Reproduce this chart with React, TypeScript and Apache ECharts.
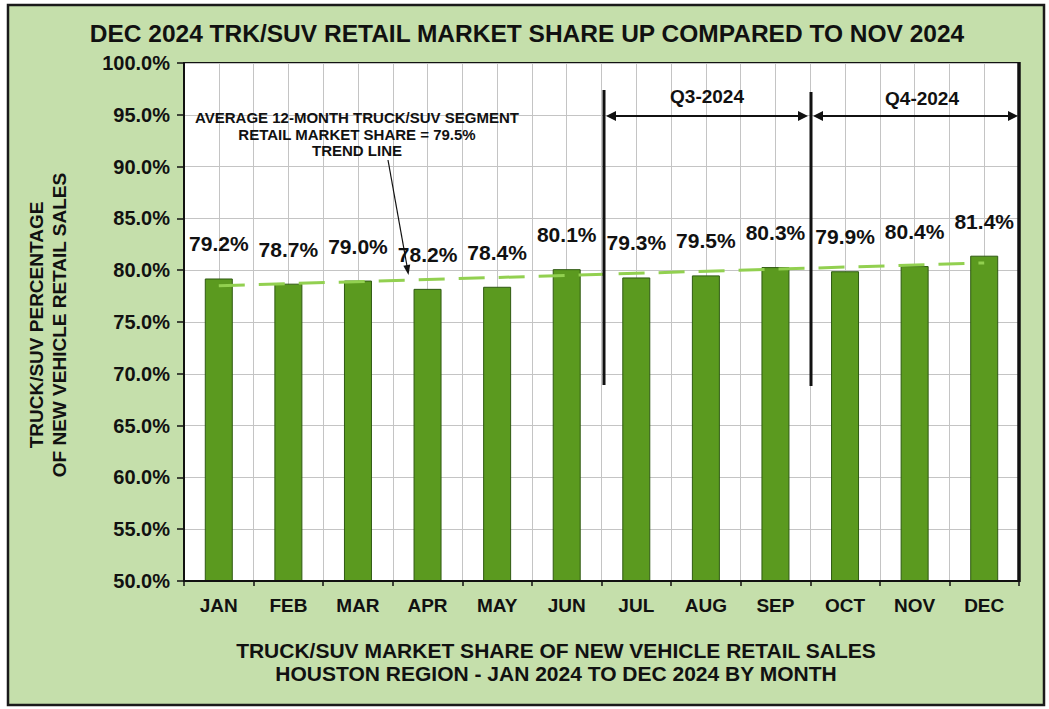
import React, { useEffect, useRef } from "react";
import * as echarts from "echarts";

const categories = ["JAN", "FEB", "MAR", "APR", "MAY", "JUN", "JUL", "AUG", "SEP", "OCT", "NOV", "DEC"];
const shareValues = [79.2, 78.7, 79.0, 78.2, 78.4, 80.1, 79.3, 79.5, 80.3, 79.9, 80.4, 81.4];
// trend line read at its two ends (JAN and DEC)
const trendValues: (number | null)[] = [78.5, null, null, null, null, null, null, null, null, null, null, 80.7];
const titleText = "DEC 2024 TRK/SUV RETAIL MARKET SHARE UP COMPARED TO NOV 2024";
const yNameLines = ["TRUCK/SUV PERCENTAGE", "OF NEW VEHICLE RETAIL SALES"];
const bottomLines = ["TRUCK/SUV MARKET SHARE OF NEW VEHICLE RETAIL SALES", "HOUSTON REGION - JAN 2024 TO DEC 2024 BY MONTH"];
const noteLines = ["AVERAGE 12-MONTH TRUCK/SUV SEGMENT", "RETAIL MARKET SHARE = 79.5%", "TREND LINE"];
const quarterLabels = ["Q3-2024", "Q4-2024"];

const FONT = "'Liberation Sans', Arial, Helvetica, sans-serif";

function arrowHead(tipX: number, tipY: number, dx: number, dy: number, len: number, half: number) {
  const n = Math.sqrt(dx * dx + dy * dy);
  const ux = dx / n, uy = dy / n;
  const bx = tipX - ux * len, by = tipY - uy * len;
  const px = -uy * half, py = ux * half;
  return [[tipX, tipY], [bx + px, by + py], [bx - px, by - py]];
}

export default function App() {
  const ref = useRef<HTMLDivElement>(null);
  useEffect(() => {
    if (!ref.current) return;
    const chart = echarts.init(ref.current, undefined, { renderer: "svg" });
    const black = "#111";
    const option: any = {
      animation: false,
      backgroundColor: "#ffffff",
      textStyle: { fontFamily: FONT },
      grid: {
        left: 184, right: 30, top: 63, bottom: 128,
        show: true, backgroundColor: "#ffffff", borderColor: black, borderWidth: 2,
      },
      xAxis: [
        {
          type: "category",
          data: categories,
          boundaryGap: true,
          axisLine: { lineStyle: { color: black, width: 2 } },
          axisTick: { show: true, length: 5, lineStyle: { color: black, width: 1.5 } },
          axisLabel: { color: "#111", fontWeight: "bold", fontSize: 19, fontFamily: FONT, margin: 15 },
          splitLine: { show: false },
          z: 5,
        },
        {
          type: "value",
          min: 0, max: 24, interval: 1,
          position: "top",
          axisLine: { show: false }, axisTick: { show: false }, axisLabel: { show: false },
          splitLine: { show: true, lineStyle: { color: "#c4c4c4", width: 1 } },
        },
      ],
      yAxis: {
        type: "value",
        min: 50, max: 100, interval: 5,
        axisLine: { show: true, lineStyle: { color: black, width: 2 } },
        axisTick: { show: true, length: 7, lineStyle: { color: black, width: 1.5 } },
        axisLabel: {
          color: "#111", fontWeight: "bold", fontSize: 20, fontFamily: FONT, margin: 14,
          formatter: (v: number) => v.toFixed(1) + "%",
        },
        splitLine: { show: true, lineStyle: { color: "#c4c4c4", width: 1 } },
      },
      series: [
        {
          type: "bar",
          data: shareValues,
          barWidth: 28,
          itemStyle: { color: "#5b9a1f", borderColor: "#2f5a12", borderWidth: 1 },
          label: {
            show: true, position: "top", distance: 24,
            formatter: (p: any) => p.value.toFixed(1) + "%",
            color: "#111", fontWeight: "bold", fontSize: 21, fontFamily: FONT,
          },
          z: 2,
        },
        {
          type: "line",
          data: trendValues,
          connectNulls: true,
          symbol: "none",
          lineStyle: { color: "#92d050", width: 3, type: [26, 14] },
          z: 3,
        },
      ],
      graphic: [
        { type: "rect", z: -10, shape: { x: 8, y: 5, width: 1036, height: 700 }, style: { fill: "#c5dfab", stroke: "#1a1a1a", lineWidth: 2.5 } },
        { type: "line", z: 10, shape: { x1: 1019, y1: 62, x2: 1019, y2: 582 }, style: { stroke: black, lineWidth: 3.5 } },
        { type: "text", z: 10, x: 527, y: 33, style: { text: titleText, fill: "#111", font: `bold 24.5px ${FONT}`, textAlign: "center", textVerticalAlign: "middle" } },
        { type: "text", z: 10, x: 48, y: 325, rotation: Math.PI / 2, style: { text: yNameLines.join("\n"), fill: "#111", font: `bold 19px ${FONT}`, textAlign: "center", textVerticalAlign: "middle", lineHeight: 23 } },
        { type: "text", z: 10, x: 556, y: 662, style: { text: bottomLines.join("\n"), fill: "#111", font: `bold 21px ${FONT}`, textAlign: "center", textVerticalAlign: "middle", lineHeight: 23 } },
        { type: "text", z: 10, x: 357, y: 134, style: { text: noteLines.join("\n"), fill: "#111", font: `bold 15px ${FONT}`, textAlign: "center", textVerticalAlign: "middle", lineHeight: 16.5 } },
        { type: "line", z: 10, shape: { x1: 388, y1: 160, x2: 407, y2: 266 }, style: { stroke: black, lineWidth: 1.2 } },
        { type: "polygon", z: 10, shape: { points: arrowHead(408.5, 275, 20, 115, 10, 3.5) }, style: { fill: black } },
        // quarter separators
        { type: "line", z: 10, shape: { x1: 604, y1: 90, x2: 604, y2: 385 }, style: { stroke: black, lineWidth: 3 } },
        { type: "line", z: 10, shape: { x1: 811, y1: 92, x2: 811, y2: 386 }, style: { stroke: black, lineWidth: 3 } },
        { type: "line", z: 10, shape: { x1: 612, y1: 116, x2: 800, y2: 116 }, style: { stroke: black, lineWidth: 2 } },
        { type: "polygon", z: 10, shape: { points: arrowHead(606, 116, -1, 0, 10, 5) }, style: { fill: black } },
        { type: "polygon", z: 10, shape: { points: arrowHead(808, 116, 1, 0, 10, 5) }, style: { fill: black } },
        { type: "line", z: 10, shape: { x1: 820, y1: 116, x2: 1010, y2: 116 }, style: { stroke: black, lineWidth: 2 } },
        { type: "polygon", z: 10, shape: { points: arrowHead(813, 116, -1, 0, 10, 5) }, style: { fill: black } },
        { type: "polygon", z: 10, shape: { points: arrowHead(1018, 116, 1, 0, 10, 5) }, style: { fill: black } },
        { type: "text", z: 10, x: 707, y: 96, style: { text: quarterLabels[0], fill: "#111", font: `bold 19px ${FONT}`, textAlign: "center", textVerticalAlign: "middle" } },
        { type: "text", z: 10, x: 922, y: 98, style: { text: quarterLabels[1], fill: "#111", font: `bold 19px ${FONT}`, textAlign: "center", textVerticalAlign: "middle" } },
      ],
    };
    chart.setOption(option);
    return () => chart.dispose();
  }, []);
  return <div ref={ref} style={{ position: "fixed", left: 0, top: 0, width: 1049, height: 709 }} />;
}
